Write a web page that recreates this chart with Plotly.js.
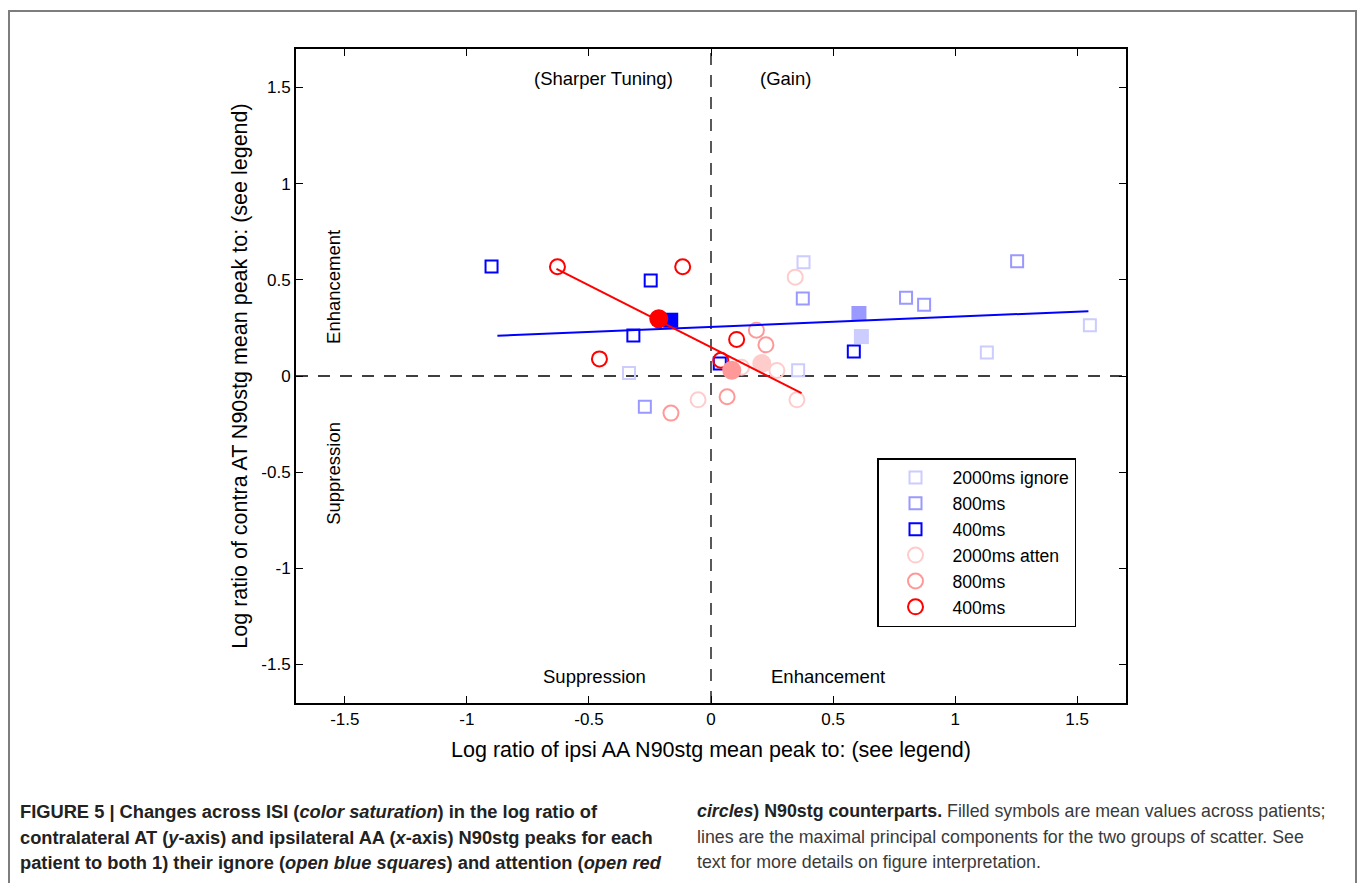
<!DOCTYPE html>
<html>
<head>
<meta charset="utf-8">
<script src="https://cdn.plot.ly/plotly-3.0.1.min.js"></script>
<style>
  html, body { margin:0; padding:0; width:1357px; height:883px; overflow:hidden; background:#fff; }
  #chart { position:absolute; left:0; top:0; width:1357px; height:883px; }
  #frame { position:absolute; left:8px; top:10px; width:1345px; height:1000px; border:2px solid #7d7d7d; pointer-events:none; }
  .cap { position:absolute; top:799px; font-family:"Liberation Sans Narrow","Liberation Sans",Arial,sans-serif; font-size:18px; line-height:25.5px; color:#222; white-space:nowrap; }
  #capL { left:20px; font-weight:bold; font-size:18.3px; }
  #capR { left:697px; color:#3a3a3a; font-size:17.8px; }
</style>
</head>
<body>
<div id="chart"></div>
<div id="frame"></div>
<div class="cap" id="capL">FIGURE 5 | Changes across ISI (<i>color saturation</i>) in the log ratio of<br>contralateral AT (<i>y</i>-axis) and ipsilateral AA (<i>x</i>-axis) N90stg peaks for each<br>patient to both 1) their ignore (<i>open blue squares</i>) and attention (<i>open red</i></div>
<div class="cap" id="capR"><b style="color:#222"><i>circles</i>) N90stg counterparts.</b> Filled symbols are mean values across patients;<br>lines are the maximal principal components for the two groups of scatter. See<br>text for more details on figure interpretation.</div>
<script>
// ---- data ----
const ign2000_x = [0.379, 1.552, 1.130, 0.357, -0.336];
const ign2000_y = [0.592, 0.264, 0.122, 0.030, 0.015];
const ign800_x  = [0.376, 0.799, 0.873, 1.254, -0.271];
const ign800_y  = [0.403, 0.407, 0.370, 0.597, -0.160];
const ign400_x  = [-0.899, -0.247, -0.318, 0.036, 0.585];
const ign400_y  = [0.569, 0.497, 0.210, 0.065, 0.127];

const att2000_x = [0.345, -0.053, 0.270, 0.352, 0.125];
const att2000_y = [0.514, -0.124, 0.029, -0.124, 0.046];
const att800_x  = [0.186, 0.225, 0.066, -0.164];
const att800_y  = [0.238, 0.162, -0.108, -0.193];
const att400_x  = [-0.629, -0.116, -0.457, 0.105, 0.040];
const att400_y  = [0.568, 0.568, 0.089, 0.190, 0.082];

const meanIgn_x = [0.616, 0.606, -0.165];
const meanIgn_y = [0.205, 0.325, 0.290];
const meanAtt_x = [0.208, 0.085, -0.214];
const meanAtt_y = [0.065, 0.030, 0.298];

const pcIgn_x = [-0.875, 1.546];
const pcIgn_y = [0.209, 0.337];
const pcAtt_x = [-0.633, 0.371];
const pcAtt_y = [0.557, -0.089];

const tickVals = [-1.5, -1, -0.5, 0, 0.5, 1, 1.5];
const tickText = ['-1.5', '-1', '-0.5', '0', '0.5', '1', '1.5'];
const legendNames = ['2000ms ignore', '800ms', '400ms', '2000ms atten', '800ms', '400ms'];

// ---- styles ----
const blueC = ['rgb(204,204,255)', 'rgb(153,153,255)', 'rgb(0,0,255)'];
const redC  = ['rgb(255,204,204)', 'rgb(255,153,153)', 'rgb(255,0,0)'];

function openTrace(x, y, sym, col, name, rank, size) {
  return { type:'scatter', mode:'markers', x:x, y:y, name:name, legendrank:rank,
    marker:{ symbol:sym, size:size, color:col, line:{ color:col, width:2 } }, cliponaxis:false };
}

const traces = [
  openTrace(ign2000_x, ign2000_y, 'square-open', blueC[0], legendNames[0], 1, 12),
  openTrace(ign800_x,  ign800_y,  'square-open', blueC[1], legendNames[1], 2, 12),
  openTrace(ign400_x,  ign400_y,  'square-open', blueC[2], legendNames[2], 3, 12),
  openTrace(att2000_x, att2000_y, 'circle-open', redC[0], legendNames[3], 4, 15),
  openTrace(att800_x,  att800_y,  'circle-open', redC[1], legendNames[4], 5, 15),
  openTrace(att400_x,  att400_y,  'circle-open', redC[2], legendNames[5], 6, 15),
  { type:'scatter', mode:'markers', x:meanIgn_x, y:meanIgn_y, showlegend:false,
    marker:{ symbol:'square', size:15, color:blueC, line:{width:0} } },
  { type:'scatter', mode:'markers', x:meanAtt_x, y:meanAtt_y, showlegend:false,
    marker:{ symbol:'circle', size:19, color:redC, line:{width:0} } },
  { type:'scatter', mode:'lines', x:pcIgn_x, y:pcIgn_y, showlegend:false, line:{ color:'rgb(0,0,255)', width:2 } },
  { type:'scatter', mode:'lines', x:pcAtt_x, y:pcAtt_y, showlegend:false, line:{ color:'rgb(255,0,0)', width:2 } }
];

const font = { family:'"Liberation Sans", Arial, sans-serif', color:'#000' };
const txt = (x, y, t, rot) => ({ x:x, y:y, xref:'x', yref:'y', text:t, showarrow:false, textangle:rot||0,
  font:{ family:font.family, size:18.5, color:'#000' } });

const layout = {
  width:1357, height:883,
  margin:{ l:296, r:231, t:49, b:180 },
  paper_bgcolor:'rgba(0,0,0,0)', plot_bgcolor:'#fff',
  font:font,
  showlegend:true,
  xaxis:{ range:[-1.7, 1.7], tickvals:tickVals, ticktext:tickText, ticks:'inside', ticklen:7, tickwidth:1,
    tickcolor:'#000', showline:true, linecolor:'#000', linewidth:2, mirror:'ticks', showgrid:false, zeroline:false,
    tickfont:{ family:font.family, size:17, color:'#000' },
    title:{ text:'Log ratio of ipsi AA N90stg mean peak to: (see legend)', font:{ family:font.family, size:21.5, color:'#000' }, standoff:14 } },
  yaxis:{ range:[-1.7, 1.7], tickvals:tickVals, ticktext:tickText, ticks:'inside', ticklen:7, tickwidth:1,
    tickcolor:'#000', showline:true, linecolor:'#000', linewidth:2, mirror:'ticks', showgrid:false, zeroline:false,
    tickfont:{ family:font.family, size:17, color:'#000' },
    title:{ text:'Log ratio of contra AT N90stg mean peak to: (see legend)', font:{ family:font.family, size:21.5, color:'#000' }, standoff:8 } },
  legend:{ x:0.7, y:0.3746, xanchor:'left', yanchor:'top', bgcolor:'#fff', bordercolor:'#000', borderwidth:1.5,
    font:{ family:font.family, size:17.6, color:'#000' }, itemwidth:64, tracegroupgap:0 },
  shapes:[
    { type:'line', xref:'x', yref:'paper', x0:0, x1:0, y0:0, y1:1, line:{ color:'#000', width:1.3, dash:'12px,10px' }, layer:'below' },
    { type:'line', xref:'paper', yref:'y', x0:0, x1:1, y0:0, y1:0, line:{ color:'#000', width:1.3, dash:'12px,10px' }, layer:'below' }
  ],
  annotations:[
    txt(-0.44, 1.547, '(Sharper Tuning)'),
    txt(0.307, 1.547, '(Gain)'),
    txt(-0.476, -1.563, 'Suppression'),
    txt(0.479, -1.563, 'Enhancement'),
    txt(-1.547, 0.465, 'Enhancement', -90),
    txt(-1.547, -0.507, 'Suppression', -90)
  ]
};

Plotly.newPlot('chart', traces, layout, { staticPlot:true, displayModeBar:false });
</script>
</body>
</html>
